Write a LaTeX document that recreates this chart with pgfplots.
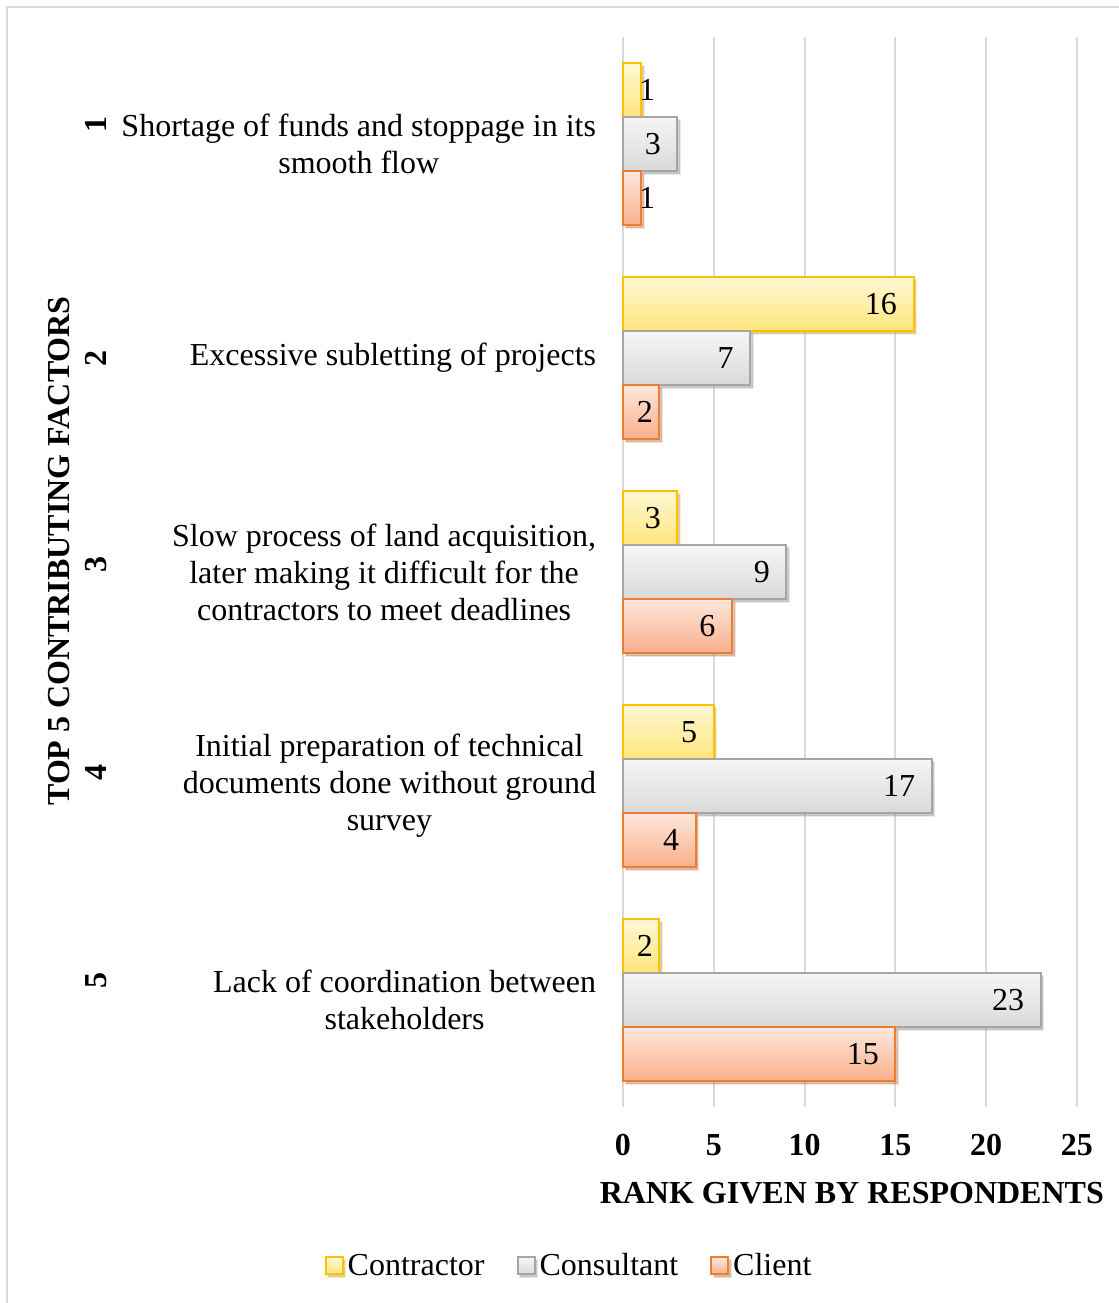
\documentclass[border=0pt]{standalone}
\usepackage{fontspec}
\setmainfont{Liberation Serif}
\usepackage{pgfplots}
\usepackage{pgfplotstable}
\pgfplotsset{compat=1.18}
\usetikzlibrary{shadows}

\definecolor{gridgray}{HTML}{D9D9D9}
\definecolor{ctrTop}{HTML}{FFF8D4}
\definecolor{ctrBot}{HTML}{FFE57C}
\definecolor{ctrLine}{HTML}{FFC000}
\definecolor{conTop}{HTML}{F5F5F5}
\definecolor{conBot}{HTML}{DADADA}
\definecolor{conLine}{HTML}{A5A5A5}
\definecolor{cliTop}{HTML}{FDE7DD}
\definecolor{cliBot}{HTML}{F9B08A}
\definecolor{cliLine}{HTML}{ED7D31}

% rank given by each respondent group to the five factors
\pgfplotstableread{
cat contractor consultant client
1   1          3          1
2   16         7          2
3   3          9          6
4   5          17         4
5   2          23         15
}\ranks

\newcommand{\chartfont}{\fontsize{16}{18.5}\selectfont}

\pgfplotsset{
  barshadow/.style={drop shadow={shadow xshift=1.3pt, shadow yshift=-1.3pt, opacity=0.22, fill=black}},
  sqlegend/.style={legend image code/.code={%
      \draw[##1] (0pt,-4.25pt) rectangle (8.5pt,4.25pt);}},
  ctrbar/.style={bar shift=-0.252, draw=ctrLine, line width=1pt, top color=ctrTop, bottom color=ctrBot, barshadow, sqlegend},
  conbar/.style={bar shift=0, draw=conLine, line width=1pt, top color=conTop, bottom color=conBot, barshadow, sqlegend},
  clibar/.style={bar shift=0.252, draw=cliLine, line width=1pt, top color=cliTop, bottom color=cliBot, barshadow, sqlegend},
}

\begin{document}
\begin{tikzpicture}
\useasboundingbox (0pt,0pt) rectangle (559.5pt,-651.5pt);
\draw[gridgray, line width=1pt] (3.5pt,-651.5pt) -- (3.5pt,-3.5pt) -- (559.5pt,-3.5pt);
\begin{axis}[
  at={(311.5pt,-18.5pt)}, anchor=north west,
  scale only axis, width=227pt, height=535pt,
  xbar, bar width=0.252,
  xmin=0, xmax=25, ymin=0.5, ymax=5.5, y dir=reverse,
  clip=false,
  axis line style={draw=none},
  tick style={draw=none},
  xmajorgrids,
  major grid style={gridgray, line width=1pt},
  xtick={0,5,...,25},
  ytick={1,2,3,4,5},
  yticklabels={
    {Shortage of funds and stoppage in its\\smooth flow},
    {Excessive subletting of projects},
    {Slow process of land acquisition,\\later making it difficult for the\\contractors to meet deadlines},
    {Initial preparation of technical\\documents done without ground\\survey},
    {Lack of coordination between\\stakeholders}},
  /pgf/number format/assume math mode=true,
  xticklabel style={font=\bfseries\chartfont, anchor=base, inner sep=0pt, yshift=-24pt},
  yticklabel style={font=\chartfont, align=center, anchor=east, inner sep=0pt, xshift=-9pt},
  xlabel={RANK GIVEN BY RESPONDENTS},
  xlabel style={at={(axis description cs:0.504,0)}, anchor=base, inner sep=0pt, yshift=-48pt, font=\bfseries\chartfont},
  ylabel={TOP 5 CONTRIBUTING FACTORS},
  ylabel style={at={(axis description cs:-1.2423,0.5196)}, anchor=center, font=\bfseries\chartfont},
  nodes near coords,
  point meta=x,
  visualization depends on={x \as \rawx},
  every node near coord/.append style={anchor=east, inner sep=0pt, text=black, font=\chartfont,
    xshift={ifthenelse(\rawx<1.5,7.5,ifthenelse(\rawx<2.5,-2.75,-7.8))*1pt}},
  legend style={draw=none, fill=none, at={(axis description cs:-0.1165,-0.1485)}, anchor=center,
    font=\chartfont, nodes={inner xsep=2pt},
    /tikz/every even column/.append style={column sep=14pt}},
  legend columns=-1,
]
% one bar per path so that each bar gets its own top-to-bottom shading
\pgfplotsinvokeforeach{0.8:1.2, 1.8:2.2, 2.8:3.2, 3.8:4.2, 4.8:5.2}{
  \addplot[ctrbar, forget plot, restrict y to domain=#1]
    table[x=contractor, y=cat] {\ranks};
  \addplot[conbar, forget plot, restrict y to domain=#1]
    table[x=consultant, y=cat] {\ranks};
  \addplot[clibar, forget plot, restrict y to domain=#1]
    table[x=client, y=cat] {\ranks};
}
\addlegendimage{ctrbar}
\addlegendentry{Contractor}
\addlegendimage{conbar}
\addlegendentry{Consultant}
\addlegendimage{clibar}
\addlegendentry{Client}

% factor numbers beside the factor names
\node[rotate=90, font=\bfseries\chartfont] at (axis cs:-29.02,0.911) {1};
\node[rotate=90, font=\bfseries\chartfont] at (axis cs:-29.02,2.0) {2};
\node[rotate=90, font=\bfseries\chartfont] at (axis cs:-29.02,2.967) {3};
\node[rotate=90, font=\bfseries\chartfont] at (axis cs:-29.02,3.935) {4};
\node[rotate=90, font=\bfseries\chartfont] at (axis cs:-29.02,4.907) {5};
\end{axis}
\end{tikzpicture}
\end{document}
